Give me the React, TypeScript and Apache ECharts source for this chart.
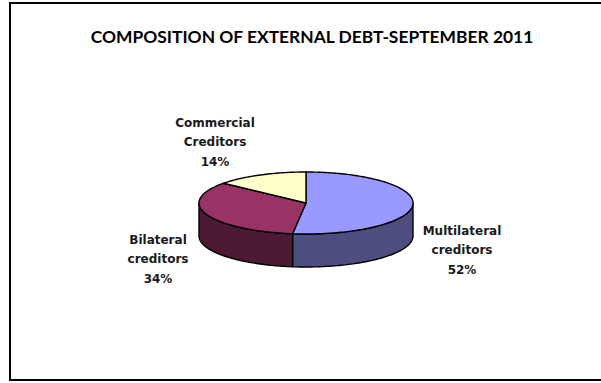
import React, { useEffect, useRef } from "react";
import * as echarts from "echarts";

const titleText = "COMPOSITION OF EXTERNAL DEBT-SEPTEMBER 2011";
const categories = ["Multilateral\ncreditors", "Bilateral\ncreditors", "Commercial\nCreditors"];
const shares = [52, 34, 14];
const topColors = ["#9999FF", "#993366", "#FFFFCC"];
const sideColors = ["#4D4D80", "#4D1A33", "#80806A"];

// layout (not data)
const PIE = { cx: 306, cy: 203, rx: 107, ry: 31, depth: 33 };
const labelPositions: [number, number][] = [
  [462, 250],
  [158, 259],
  [215, 142],
];

export default function App() {
  const ref = useRef<HTMLDivElement>(null);
  useEffect(() => {
    document.body.style.margin = "0";
    if (!ref.current) return;
    const chart = echarts.init(ref.current, null, { renderer: "svg" });
    const total = shares.reduce((a, b) => a + b, 0);
    const pt = (t: number, dy: number) => [
      PIE.cx + PIE.rx * Math.sin(t),
      PIE.cy - PIE.ry * Math.cos(t) + dy,
    ];
    const arc = (a: number, b: number, dy: number) => {
      const pts: number[][] = [];
      const n = Math.max(2, Math.ceil(Math.abs(b - a) / 0.02));
      for (let i = 0; i <= n; i++) pts.push(pt(a + ((b - a) * i) / n, dy));
      return pts;
    };
    const option: any = {
      animation: false,
      backgroundColor: "#ffffff",
      title: {
        text: titleText,
        left: 307,
        top: 23,
        textAlign: "center",
        textStyle: {
          fontFamily: "Lato",
          fontWeight: "bold",
          fontSize: 17.4,
          color: "#000",
        },
      },
      graphic: [
        {
          type: "rect",
          shape: { x: 10, y: 3, width: 610, height: 377 },
          style: { fill: "none", stroke: "#000", lineWidth: 2 },
          silent: true,
        },
      ],
      series: [
        {
          type: "custom",
          coordinateSystem: "none",
          data: shares.map((v, i) => ({ name: categories[i], value: v })),
          renderItem: (params: any, api: any) => {
            const i = params.dataIndex;
            const before = shares.slice(0, i).reduce((a, b) => a + b, 0);
            const a0 = (before / total) * Math.PI * 2;
            const a1 = ((before + api.value(0)) / total) * Math.PI * 2;
            const children: any[] = [];
            const s = Math.max(a0, Math.PI / 2);
            const e = Math.min(a1, (Math.PI * 3) / 2);
            if (e > s) {
              const pts = arc(s, e, 0).concat(arc(e, s, PIE.depth));
              children.push({
                type: "polygon",
                z2: 1,
                shape: { points: pts },
                style: { fill: sideColors[i], stroke: "#000", lineWidth: 1.4, lineJoin: "round" },
              });
            }
            const topPts = [[PIE.cx, PIE.cy]].concat(arc(a0, a1, 0));
            children.push({
              type: "polygon",
              z2: 10,
              shape: { points: topPts },
              style: { fill: topColors[i], stroke: "#000", lineWidth: 1.4, lineJoin: "round" },
            });
            const [lx, ly] = labelPositions[i];
            children.push({
              type: "text",
              z2: 20,
              x: lx,
              y: ly,
              style: {
                text: `${categories[i]}\n${api.value(0)}%`,
                fontFamily: "DejaVu Sans",
                fontWeight: "bold",
                fontSize: 12,
                lineHeight: 19.5,
                fill: "#1a1a1a",
                align: "center",
                verticalAlign: "middle",
              },
            });
            return { type: "group", children };
          },
        },
      ],
    };
    chart.setOption(option);
    return () => chart.dispose();
  }, []);
  return <div ref={ref} style={{ width: 601, height: 383, position: "absolute", left: 0, top: 0 }} />;
}
